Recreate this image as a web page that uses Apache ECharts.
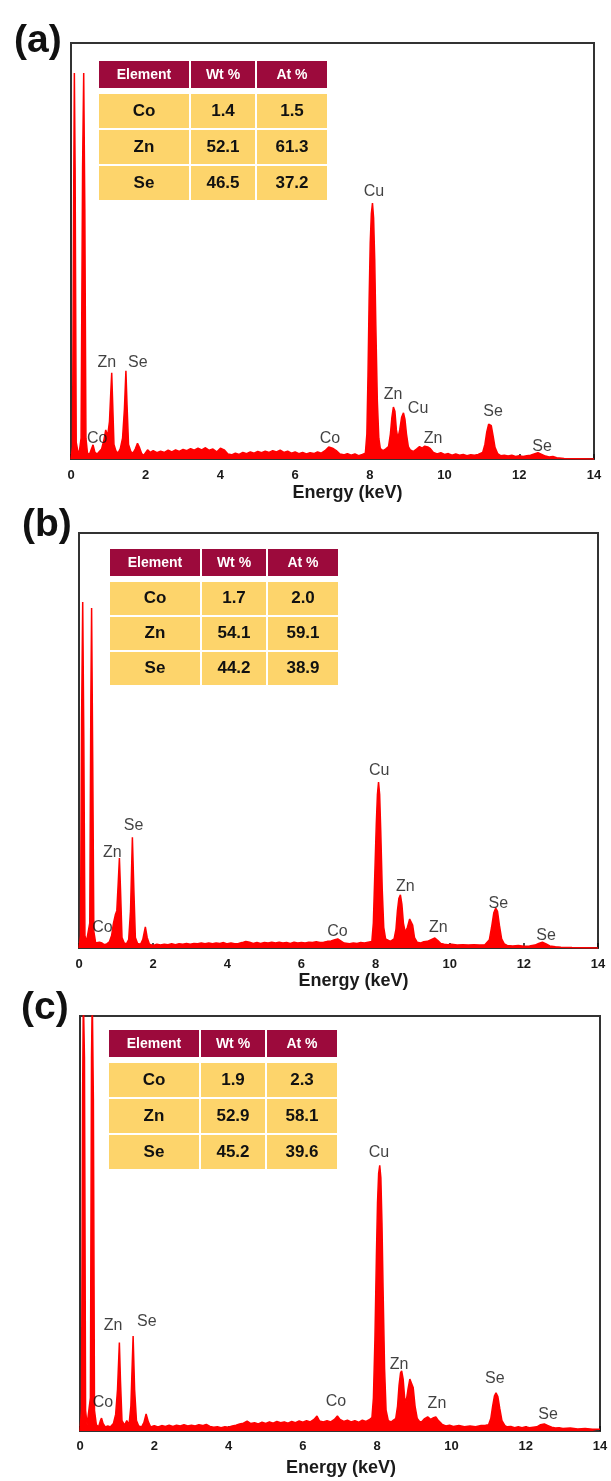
<!DOCTYPE html>
<html><head><meta charset="utf-8">
<script src="https://cdn.jsdelivr.net/npm/echarts@6/dist/echarts.min.js"></script>
<style>html,body{margin:0;padding:0;background:#fff}#c{width:611px;height:1481px}</style>
</head><body><div id="c"></div><script>
// ---------------- DATA ----------------
const xTicks = [0, 2, 4, 6, 8, 10, 12, 14];
const panelLabels = ['(a)', '(b)', '(c)'];
const axisTitle = 'Energy (keV)';
const tableHeader = ['Element', 'Wt %', 'At %'];
const elements = ['Co', 'Zn', 'Se'];
const wtA = ['1.4', '52.1', '46.5'], atA = ['1.5', '61.3', '37.2'];
const wtB = ['1.7', '54.1', '44.2'], atB = ['2.0', '59.1', '38.9'];
const wtC = ['1.9', '52.9', '45.2'], atC = ['2.3', '58.1', '39.6'];

// spectra: [energy keV, relative counts (% of frame height)]
const spectrumA = [[0.00,0],[0.04,3],[0.07,60],[0.09,92.8],[0.11,70],[0.14,4],[0.18,2],[0.22,1.5],[0.27,5],[0.31,70],[0.34,92.8],[0.37,60],[0.40,5],[0.44,1.5],[0.49,1.0],[0.54,2.2],[0.59,3.4],[0.64,1.6],[0.70,1.2],[0.76,1.8],[0.82,2.4],[0.88,4.5],[0.93,7.0],[0.98,5.5],[1.03,9],[1.07,17],[1.09,20.7],[1.11,15],[1.15,3.5],[1.20,2],[1.26,1.4],[1.32,2.5],[1.38,5],[1.43,12],[1.47,21.2],[1.50,13],[1.54,3.5],[1.60,1.8],[1.66,1.4],[1.72,2.4],[1.78,3.8],[1.83,2.8],[1.89,1.3],[1.95,0.9],[2.00,1.0],[2.05,2.2],[2.12,1.6],[2.2,2.0],[2.3,1.5],[2.4,1.9],[2.5,1.6],[2.6,2.1],[2.7,1.7],[2.8,2.2],[2.9,1.8],[3.0,2.3],[3.1,2.0],[3.2,2.5],[3.3,2.1],[3.4,2.6],[3.5,2.2],[3.6,2.7],[3.7,2.1],[3.8,2.4],[3.9,1.7],[4.0,2.6],[4.1,2.2],[4.2,1.2],[4.3,1.0],[4.4,1.4],[4.5,1.1],[4.6,1.6],[4.7,1.3],[4.8,1.7],[4.9,1.4],[5.0,1.8],[5.1,1.5],[5.2,1.9],[5.3,1.6],[5.4,2.0],[5.5,1.7],[5.6,2.1],[5.7,1.6],[5.8,1.9],[5.9,1.4],[6.0,1.7],[6.1,1.3],[6.2,1.6],[6.3,1.2],[6.4,1.5],[6.5,1.3],[6.6,1.7],[6.7,1.4],[6.8,2.0],[6.9,2.9],[6.95,3.2],[7.0,2.6],[7.1,2.0],[7.2,1.2],[7.3,1.0],[7.4,1.3],[7.5,0.9],[7.6,1.2],[7.7,0.8],[7.8,1.1],[7.88,1.4],[7.92,6],[7.95,20],[7.98,38],[8.01,52],[8.04,59],[8.07,61.5],[8.10,58],[8.13,48],[8.16,32],[8.2,14],[8.24,5],[8.28,2.5],[8.35,2.0],[8.42,2.4],[8.5,3],[8.55,6],[8.59,10],[8.63,12.5],[8.67,11.5],[8.71,7],[8.75,5],[8.8,7],[8.85,10],[8.9,11.1],[8.94,9.5],[8.98,6],[9.03,3],[9.08,2.2],[9.16,1.8],[9.25,2.4],[9.33,3.0],[9.4,2.6],[9.47,3.1],[9.55,2.9],[9.62,2.5],[9.7,1.6],[9.8,1.2],[9.9,1.5],[10.0,1.1],[10.1,1.3],[10.2,0.9],[10.3,1.2],[10.4,0.9],[10.5,1.1],[10.6,0.8],[10.7,1.0],[10.8,0.9],[10.9,1.1],[11.02,1.6],[11.08,3.5],[11.13,6.5],[11.18,8.4],[11.21,8.7],[11.25,8],[11.3,5.5],[11.35,2.8],[11.42,1.3],[11.5,0.8],[11.6,0.9],[11.7,0.7],[11.8,0.9],[11.9,0.6],[12.0,0.8],[12.1,0.6],[12.2,0.8],[12.3,0.9],[12.4,1.2],[12.5,1.5],[12.6,1.1],[12.7,0.7],[12.8,0.5],[12.9,0.6],[13.0,0.3],[13.2,0.1],[14.0,0]];

const spectrumB = [[0.00,0],[0.04,3],[0.07,55],[0.10,83.4],[0.13,50],[0.16,3],[0.2,1.5],[0.25,1.2],[0.29,6],[0.32,60],[0.34,81.9],[0.37,45],[0.40,4],[0.45,1.2],[0.50,0.8],[0.55,1.4],[0.58,1.7],[0.62,1.2],[0.68,0.8],[0.75,1.0],[0.82,1.5],[0.88,3],[0.93,6],[0.98,8],[1.02,9],[1.06,16],[1.09,21.7],[1.12,14],[1.16,2.5],[1.22,1.2],[1.28,1.0],[1.34,2],[1.39,9],[1.44,26.7],[1.48,14],[1.52,2.5],[1.58,1.1],[1.66,0.9],[1.72,2],[1.79,5.1],[1.84,2.5],[1.9,0.9],[2.0,0.6],[2.1,0.9],[2.2,0.7],[2.3,0.9],[2.4,0.8],[2.5,1.0],[2.6,0.8],[2.7,1.0],[2.8,0.9],[2.9,1.1],[3.0,0.9],[3.1,1.1],[3.2,1.0],[3.3,1.2],[3.4,1.0],[3.5,1.2],[3.6,1.0],[3.7,1.2],[3.8,1.1],[3.9,1.3],[4.0,1.0],[4.1,1.2],[4.2,1.0],[4.3,1.1],[4.4,1.3],[4.5,1.6],[4.6,1.4],[4.7,1.1],[4.8,1.3],[4.9,1.1],[5.0,1.3],[5.1,1.2],[5.2,1.4],[5.3,1.2],[5.4,1.4],[5.5,1.2],[5.6,1.3],[5.7,1.1],[5.8,1.4],[5.9,1.2],[6.0,1.3],[6.1,1.2],[6.2,1.4],[6.3,1.3],[6.4,1.5],[6.5,1.3],[6.6,1.4],[6.7,1.6],[6.8,1.7],[6.9,2.0],[6.98,2.2],[7.05,1.8],[7.15,1.2],[7.3,1.0],[7.4,1.2],[7.5,1.1],[7.6,1.3],[7.7,1.2],[7.8,1.4],[7.9,1.6],[7.94,6],[7.98,18],[8.02,30],[8.05,37],[8.08,40],[8.11,37],[8.14,28],[8.18,14],[8.22,5],[8.27,2.2],[8.32,1.8],[8.4,1.6],[8.45,1.8],[8.5,2.2],[8.55,4.5],[8.59,9],[8.63,12],[8.67,12.8],[8.71,10.5],[8.75,6],[8.8,3.8],[8.86,5],[8.92,7],[8.96,7.2],[9.0,5.5],[9.05,2.5],[9.12,1.4],[9.22,1.2],[9.3,1.5],[9.4,1.6],[9.5,2.0],[9.6,2.4],[9.68,1.8],[9.76,1.1],[9.85,0.9],[9.95,0.8],[10.05,0.9],[10.2,0.7],[10.35,0.8],[10.5,0.7],[10.65,0.8],[10.8,0.7],[10.95,0.8],[11.0,0.9],[11.07,2],[11.13,5],[11.19,8.5],[11.24,9.6],[11.29,8.8],[11.34,5.5],[11.4,2.2],[11.47,1.0],[11.55,0.6],[11.7,0.5],[11.85,0.6],[12.0,0.4],[12.15,0.5],[12.3,0.7],[12.4,1.1],[12.5,1.4],[12.6,1.0],[12.7,0.5],[12.85,0.3],[13.0,0.2],[13.3,0.1],[14.0,0]];

const spectrumC = [[0.00,0],[0.04,5],[0.07,80],[0.09,105],[0.12,90],[0.15,5],[0.19,1.5],[0.24,1.2],[0.28,8],[0.31,90],[0.33,105],[0.36,80],[0.39,5],[0.44,1.5],[0.50,1.0],[0.55,2.5],[0.58,3.1],[0.62,1.8],[0.68,1.0],[0.75,1.2],[0.82,1.0],[0.9,1.8],[0.96,4],[1.01,10],[1.06,21.3],[1.09,12],[1.13,2.5],[1.2,1.4],[1.26,2.5],[1.32,1.5],[1.37,6],[1.43,22.9],[1.47,10],[1.52,2.5],[1.58,1.2],[1.66,1.0],[1.72,2],[1.78,4.1],[1.84,2.2],[1.9,1.0],[2.0,1.3],[2.1,1.0],[2.2,1.3],[2.3,1.1],[2.4,1.4],[2.5,1.1],[2.6,1.4],[2.7,1.2],[2.8,1.5],[2.9,1.2],[3.0,1.4],[3.1,1.2],[3.2,1.5],[3.3,1.3],[3.4,1.6],[3.5,1.1],[3.6,0.9],[3.7,1.0],[3.8,0.8],[3.9,1.0],[4.0,0.9],[4.1,1.2],[4.2,1.4],[4.3,1.7],[4.4,1.9],[4.5,2.4],[4.6,1.8],[4.7,2.0],[4.8,1.7],[4.9,2.1],[5.0,1.8],[5.1,2.2],[5.2,1.9],[5.3,2.3],[5.4,2.0],[5.5,2.2],[5.6,1.9],[5.7,2.3],[5.8,2.0],[5.9,2.4],[6.0,2.1],[6.1,2.5],[6.2,2.2],[6.3,2.8],[6.38,3.6],[6.45,2.4],[6.55,2.2],[6.65,2.5],[6.75,2.2],[6.85,2.8],[6.93,3.6],[7.0,2.8],[7.1,2.3],[7.2,2.6],[7.3,2.2],[7.4,2.5],[7.5,2.1],[7.6,2.6],[7.7,2.3],[7.8,2.8],[7.86,3.2],[7.9,8],[7.94,22],[7.98,42],[8.01,55],[8.04,62],[8.07,64],[8.1,61],[8.13,50],[8.16,34],[8.2,15],[8.24,5],[8.3,2.5],[8.38,2.2],[8.44,2.6],[8.5,3],[8.55,6],[8.59,11],[8.63,14],[8.66,14.5],[8.7,12.5],[8.74,8],[8.78,7],[8.83,10],[8.88,12.5],[8.93,12.8],[8.97,10.5],[9.02,6],[9.08,3],[9.14,2.3],[9.2,2.2],[9.28,3.0],[9.36,3.4],[9.44,2.8],[9.52,3.2],[9.58,3.4],[9.65,2.5],[9.75,1.6],[9.85,1.2],[9.95,1.4],[10.05,1.1],[10.2,1.3],[10.35,1.0],[10.5,1.2],[10.65,1.0],[10.8,1.3],[10.92,1.4],[11.0,1.5],[11.06,3],[11.11,6],[11.16,8.5],[11.2,9.2],[11.25,8.3],[11.3,5.5],[11.36,2.5],[11.44,1.3],[11.5,1.0],[11.6,1.1],[11.7,0.8],[11.8,1.0],[11.9,0.8],[12.0,1.0],[12.1,0.8],[12.2,0.9],[12.3,1.0],[12.4,1.5],[12.5,1.7],[12.6,1.3],[12.7,0.9],[12.8,0.7],[12.9,0.8],[13.0,0.6],[13.2,0.7],[13.4,0.5],[13.6,0.6],[13.8,0.4],[14.0,0.4]];

// peak annotations: [energy, height, text]
const peakLabelsA = [[0.96,23.1,'Zn'],[1.79,23.1,'Se'],[0.70,4.8,'Co'],[6.93,4.8,'Co'],[8.11,64.4,'Cu'],[8.62,15.6,'Zn'],[9.29,12.0,'Cu'],[9.69,5.0,'Zn'],[11.30,11.5,'Se'],[12.61,3.1,'Se']];
const peakLabelsB = [[1.47,29.4,'Se'],[0.90,22.9,'Zn'],[0.63,4.8,'Co'],[6.97,3.9,'Co'],[8.10,42.7,'Cu'],[8.80,14.7,'Zn'],[9.69,4.8,'Zn'],[11.31,10.8,'Se'],[12.60,3.1,'Se']];
const peakLabelsC = [[0.89,25.4,'Zn'],[1.80,26.3,'Se'],[0.62,6.8,'Co'],[6.89,7.0,'Co'],[8.05,67.1,'Cu'],[8.59,15.9,'Zn'],[9.61,6.5,'Zn'],[11.17,12.6,'Se'],[12.60,3.9,'Se']];

// ---------------- LAYOUT ----------------
const FONT = '"Liberation Sans", Arial, Helvetica, sans-serif';
const panels = [
  {grid:{left:71, top:43, width:523, height:416}, margin:10, nameGap:25, nameShift:30, label:[39,45], table:{x:99, y:61, rowH:34}, spec:spectrumA, peaks:peakLabelsA, wt:wtA, at:atA},
  {grid:{left:79, top:533, width:519, height:415}, margin:10, nameGap:19, nameShift:30, label:[47,529], table:{x:110, y:549, rowH:33}, spec:spectrumB, peaks:peakLabelsB, wt:wtB, at:atB},
  {grid:{left:80, top:1016, width:520, height:415}, margin:9, nameGap:28, nameShift:2, label:[46,1012], table:{x:109, y:1030, rowH:34}, spec:spectrumC, peaks:peakLabelsC, wt:wtC, at:atC}
];
const colW = [90, 64, 70], colGap = 2, headerH = 27, headerGap = 6, rowGap = 2;
const HEAD = '#9c0a3c', BODY = '#fdd46b', RED = '#ff0000';

const grids = [], xAxes = [], yAxes = [], series = [], graphic = [];
panels.forEach((p, i) => {
  grids.push(Object.assign({show:true, borderColor:'#333', borderWidth:2, backgroundColor:'transparent'}, p.grid));
  xAxes.push({
    gridIndex:i, type:'value', min:xTicks[0], max:xTicks[xTicks.length-1], interval:xTicks[1]-xTicks[0],
    name:axisTitle, nameLocation:'middle', nameGap:p.nameGap,
    nameTextStyle:{fontFamily:FONT, fontWeight:'bold', fontSize:18, color:'#1a1a1a', padding:[0,0,0,p.nameShift]},
    axisLine:{show:true, lineStyle:{color:'#333', width:2}},
    axisTick:{show:true, inside:true, length:5, lineStyle:{color:'#111', width:1.5}},
    axisLabel:{margin:p.margin, fontFamily:FONT, fontWeight:'bold', fontSize:13, color:'#1a1a1a', showMinLabel:true, showMaxLabel:true},
    splitLine:{show:false}
  });
  yAxes.push({gridIndex:i, type:'value', min:0, max:100, show:false, splitLine:{show:false}});
  series.push({
    type:'line', xAxisIndex:i, yAxisIndex:i, data:p.spec, symbol:'none', clip:true,
    lineStyle:{color:RED, width:1.5}, areaStyle:{color:RED, opacity:1}, itemStyle:{color:RED}, silent:true, animation:false
  });
  series.push({
    type:'scatter', xAxisIndex:i, yAxisIndex:i, symbolSize:1, itemStyle:{color:'transparent'}, silent:true, z:10,
    data:p.peaks.map(d => ({value:[d[0], d[1]], name:d[2]})),
    label:{show:true, position:'inside', formatter:q => q.name, fontFamily:FONT, fontSize:16, color:'#111'}, animation:false
  });
  // panel label
  graphic.push({type:'text', left:p.label[0]-25, top:p.label[1]-23, style:{text:panelLabels[i], font:'bold 39px ' + FONT, fill:'#111'}});
  // table
  let cx = p.table.x;
  const colX = colW.map(w => { const x = cx; cx += w + colGap; return x; });
  tableHeader.forEach((h, c) => {
    graphic.push({type:'rect', shape:{x:colX[c], y:p.table.y, width:colW[c], height:headerH}, style:{fill:HEAD}});
    graphic.push({type:'text', style:{x:colX[c]+colW[c]/2, y:p.table.y+headerH/2+1, text:h, align:'center', verticalAlign:'middle', font:'bold 14px ' + FONT, fill:'#fff'}});
  });
  const rows = elements.map((e, r) => [e, p.wt[r], p.at[r]]);
  rows.forEach((row, r) => {
    const y = p.table.y + headerH + headerGap + r * (p.table.rowH + rowGap);
    row.forEach((v, c) => {
      graphic.push({type:'rect', shape:{x:colX[c], y:y, width:colW[c], height:p.table.rowH}, style:{fill:BODY}});
      graphic.push({type:'text', style:{x:colX[c]+colW[c]/2, y:y+p.table.rowH/2, text:v, align:'center', verticalAlign:'middle', font:'bold 17px ' + FONT, fill:'#111'}});
    });
  });
});

const chart = echarts.init(document.getElementById('c'), null, {renderer:'canvas'});
chart.setOption({backgroundColor:'#fff', animation:false, grid:grids, xAxis:xAxes, yAxis:yAxes, series:series, graphic:graphic});
</script></body></html>
